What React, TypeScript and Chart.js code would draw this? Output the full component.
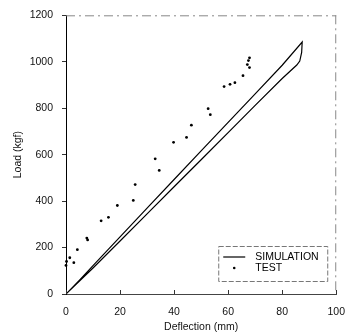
import React, { useEffect, useRef } from "react";
import { Chart, registerables } from "chart.js";

Chart.register(...registerables);

const simLoadX = [0, 5, 10, 20, 30, 40, 50, 60, 70, 80, 87.4];
const simLoadY = [0, 60, 122, 246, 370, 493, 616, 739, 862, 985, 1085];
const simUnloadX = [87.2, 86.5, 85.4, 80, 70, 60, 50, 40, 30, 20, 10, 0];
const simUnloadY = [1040, 1003, 986, 928, 812, 695, 578, 462, 345, 228, 112, 0];

const testX = [0, 0.2, 1.4, 2.9, 4.2, 7.7, 8, 13, 15.7, 19, 24.9, 25.6, 33, 34.5, 39.8, 44.6, 46.4, 52.6, 53.4, 58.5, 60.7, 62.5, 65.5, 67.1, 67.5, 67.9, 67.9];
const testY = [123, 140, 156, 135, 191, 241, 233, 315, 330, 381, 403, 471, 582, 532, 653, 674, 727, 798, 772, 893, 903, 910, 940, 988, 1005, 1017, 975];

const xTicks = [0, 20, 40, 60, 80, 100];
const yTicks = [0, 200, 400, 600, 800, 1000, 1200];

const FONT = "'Liberation Sans', Arial, sans-serif";

const simData = [
  ...simLoadX.map((x, i) => ({ x, y: simLoadY[i] })),
  ...simUnloadX.map((x, i) => ({ x, y: simUnloadY[i] })),
];
const testData = testX.map((x, i) => ({ x, y: testY[i] }));

const framePlugin = {
  id: "frame",
  afterDraw(chart: any) {
    const { ctx, chartArea } = chart;
    const { left, right, top, bottom } = chartArea;
    ctx.save();
    ctx.strokeStyle = "#888";
    ctx.lineWidth = 1;
    ctx.setLineDash([9, 4, 2, 4]);
    ctx.beginPath();
    ctx.moveTo(left, top + 0.5);
    ctx.lineTo(right, top + 0.5);
    ctx.moveTo(right - 0.5, top);
    ctx.lineTo(right - 0.5, bottom);
    ctx.stroke();
    ctx.setLineDash([]);
    // inward x ticks
    const xs = chart.scales.x;
    ctx.strokeStyle = "#333";
    ctx.beginPath();
    xTicks.forEach((v) => {
      const px = Math.round(xs.getPixelForValue(v)) + 0.5;
      ctx.moveTo(px, bottom);
      ctx.lineTo(px, bottom - 4);
    });
    ctx.stroke();

    // legend
    const bx = right - 118;
    const by = bottom - 48;
    const bw = 109;
    const bh = 35;
    ctx.strokeStyle = "#777";
    ctx.setLineDash([5, 2]);
    ctx.strokeRect(bx + 0.5, by + 0.5, bw, bh);
    ctx.setLineDash([]);
    const ds = chart.data.datasets;
    ctx.strokeStyle = "#000";
    ctx.lineWidth = 1.2;
    ctx.beginPath();
    ctx.moveTo(bx + 5, by + 11);
    ctx.lineTo(bx + 27, by + 11);
    ctx.stroke();
    ctx.fillStyle = "#000";
    ctx.beginPath();
    ctx.arc(bx + 16, by + 22, 1.3, 0, Math.PI * 2);
    ctx.fill();
    ctx.font = `10.5px ${FONT}`;
    ctx.textBaseline = "middle";
    ctx.textAlign = "left";
    ctx.fillText(ds[0].label, bx + 37, by + 11);
    ctx.fillText(ds[1].label, bx + 37, by + 22);
    ctx.restore();
  },
};

export default function App() {
  const ref = useRef<HTMLCanvasElement | null>(null);
  useEffect(() => {
    if (!ref.current) return;
    const chart = new Chart(ref.current, {
      type: "scatter",
      data: {
        datasets: [
          {
            label: "SIMULATION",
            data: simData,
            showLine: true,
            borderColor: "#000",
            borderWidth: 1.2,
            pointRadius: 0,
            tension: 0,
          },
          {
            label: "TEST",
            data: testData,
            showLine: false,
            pointRadius: 1.4,
            pointBackgroundColor: "#000",
            pointBorderWidth: 0,
            borderColor: "#000",
            clip: false,
          },
        ],
      },
      options: {
        animation: false,
        responsive: true,
        maintainAspectRatio: false,
        layout: { padding: { top: 12, right: 11, left: 0, bottom: 0 } },
        plugins: { legend: { display: false }, tooltip: { enabled: false } },
        scales: {
          x: {
            type: "linear",
            min: 0,
            max: 100,
            afterBuildTicks: (s: any) => {
              s.ticks = xTicks.map((v) => ({ value: v }));
            },
            afterFit: (s: any) => {
              s.height = 41;
            },
            grid: { display: true, drawOnChartArea: false, drawTicks: false },
            border: { color: "#444", dash: [8, 3], width: 1 },
            ticks: {
              color: "#111",
              font: { family: FONT, size: 10.5 },
              padding: 12,
              callback: (v: any) => String(v),
            },
            title: {
              display: true,
              text: "Deflection (mm)",
              color: "#111",
              font: { family: FONT, size: 10.5 },
              padding: { top: 0, bottom: 2 },
            },
          },
          y: {
            type: "linear",
            min: 0,
            max: 1200,
            afterBuildTicks: (s: any) => {
              s.ticks = yTicks.map((v) => ({ value: v }));
            },
            afterFit: (s: any) => {
              s.width = 66;
            },
            grid: { display: true, drawOnChartArea: false, drawTicks: true, tickLength: 4, color: "#333" },
            border: { color: "#000", width: 1 },
            ticks: {
              color: "#111",
              font: { family: FONT, size: 10.5 },
              padding: 9,
              callback: (v: any) => String(v),
            },
            title: {
              display: true,
              text: "Load (kgf)",
              color: "#111",
              font: { family: FONT, size: 10.5 },
              padding: { top: 12, bottom: 0 },
            },
          },
        },
      },
      plugins: [framePlugin],
    });
    return () => chart.destroy();
  }, []);
  return (
    <div style={{ position: "fixed", left: 0, top: 0, width: 357, height: 335, background: "#fff" }}>
      <canvas ref={ref} />
    </div>
  );
}
